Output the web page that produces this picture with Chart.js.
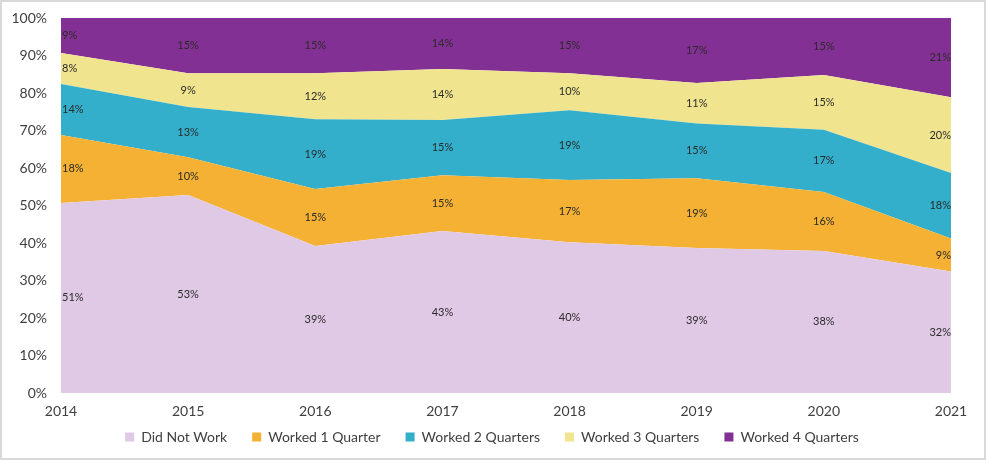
<!DOCTYPE html>
<html>
<head>
<meta charset="utf-8">
<script src="https://cdn.jsdelivr.net/npm/chart.js@4.4.1/dist/chart.umd.min.js"></script>
<style>
html,body{margin:0;padding:0;background:#fff;}
#wrap{width:986px;height:460px;position:relative;}
</style>
</head>
<body>
<div id="wrap"><canvas id="c" width="986" height="460"></canvas></div>
<script>
const years = ['2014','2015','2016','2017','2018','2019','2020','2021'];
const didNotWork    = [50.7, 52.8, 39.2, 43.2, 40.2, 38.7, 37.9, 32.4];
const worked1Q      = [18.1, 10.1, 15.2, 14.9, 16.6, 18.6, 15.7, 8.8];
const worked2Q      = [13.6, 13.4, 18.6, 14.7, 18.6, 14.6, 16.6, 17.5];
const worked3Q      = [8.3, 9.0, 12.3, 13.6, 9.9, 10.8, 14.6, 20.2];
const worked4Q      = [9.3, 14.7, 14.7, 13.6, 14.7, 17.3, 15.2, 21.1];
const seriesNames   = ['Did Not Work','Worked 1 Quarter','Worked 2 Quarters','Worked 3 Quarters','Worked 4 Quarters'];
const seriesColors  = ['#E0C9E5','#F4B133','#33AFCB','#F1E48F','#833094'];
const yTicks        = [0,10,20,30,40,50,60,70,80,90,100];

const seriesData = [didNotWork, worked1Q, worked2Q, worked3Q, worked4Q];

const datasets = seriesData.map((d, i) => ({
  label: seriesNames[i],
  data: d,
  backgroundColor: seriesColors[i],
  borderColor: seriesColors[i],
  borderWidth: 0,
  pointRadius: 0,
  pointHoverRadius: 0,
  tension: 0,
  fill: i === 0 ? 'origin' : '-1'
}));

const frame = {
  id: 'frame',
  beforeInit(chart) {
    const legend = chart.legend;
    if (legend) {
      const fit = legend.fit;
      legend.fit = function () { fit.call(this); this.height = 37; };
    }
  },
  afterLayout(chart) {
    const legend = chart.legend;
    if (legend) {
      legend.top = 405;
      legend.bottom = 460;
      legend.height = 55;
    }
  },
  beforeDraw(chart) {
    const ctx = chart.ctx;
    ctx.save();
    ctx.fillStyle = '#fff';
    ctx.fillRect(0, 0, chart.width, chart.height);
    ctx.strokeStyle = '#d9d9d9';
    ctx.lineWidth = 2;
    ctx.strokeRect(1, 1, chart.width - 2, chart.height - 2);
    ctx.restore();
  }
};

const dataLabels = {
  id: 'dataLabels',
  afterDatasetsDraw(chart) {
    const ctx = chart.ctx;
    const yScale = chart.scales.y;
    const base = yScale.getPixelForValue(0);
    ctx.save();
    ctx.font = '11px Lato, "Open Sans", sans-serif';
    ctx.fillStyle = '#2b2b2b';
    ctx.textBaseline = 'middle';
    chart.data.datasets.forEach((ds, i) => {
      const meta = chart.getDatasetMeta(i);
      const prev = i > 0 ? chart.getDatasetMeta(i - 1) : null;
      meta.data.forEach((pt, j) => {
        const top = Math.max(pt.y, yScale.top);
        const bottom = prev ? prev.data[j].y : base;
        const cy = (top + bottom) / 2;
        let x = pt.x;
        if (j === 0) { ctx.textAlign = 'left'; x += 1; }
        else if (j === meta.data.length - 1) { ctx.textAlign = 'right'; }
        else { ctx.textAlign = 'center'; }
        ctx.fillText(Math.round(ds.data[j]) + '%', x, cy);
      });
    });
    ctx.restore();
  }
};

new Chart(document.getElementById('c'), {
  type: 'line',
  data: { labels: years, datasets },
  plugins: [frame, dataLabels],
  options: {
    responsive: false,
    animation: false,
    events: [],
    layout: { padding: { left: 2, right: 4, top: 18, bottom: 0 } },
    plugins: {
      legend: {
        position: 'bottom',
        labels: {
          boxWidth: 9,
          boxHeight: 9,
          padding: 25,
          color: '#404040',
          font: { family: 'Lato, "Open Sans", sans-serif', size: 14 }
        }
      },
      tooltip: { enabled: false }
    },
    scales: {
      x: {
        offset: false,
        grid: { display: false, drawTicks: false },
        border: { display: false },
        afterFit(scale) { scale.height = 30; },
        ticks: {
          color: '#404040',
          padding: 10,
          maxRotation: 0,
          autoSkip: false,
          font: { family: 'Lato, "Open Sans", sans-serif', size: 14 }
        }
      },
      y: {
        stacked: true,
        min: 0,
        max: 100,
        grid: { display: false, drawTicks: false },
        border: { display: false },
        afterFit(scale) { scale.width = 59; scale.paddingTop = 0; scale.paddingBottom = 0; },
        afterBuildTicks(scale) { scale.ticks = yTicks.map(v => ({ value: v })); },
        ticks: {
          color: '#404040',
          padding: 14,
          font: { family: 'Lato, "Open Sans", sans-serif', size: 14 },
          callback: v => v + '%'
        }
      },
      yRight: {
        position: 'right',
        display: true,
        grid: { display: false, drawTicks: false },
        border: { display: false },
        ticks: { display: false },
        afterFit(scale) { scale.width = 31; scale.paddingTop = 0; scale.paddingBottom = 0; }
      }
    }
  }
});
</script>
</body>
</html>
